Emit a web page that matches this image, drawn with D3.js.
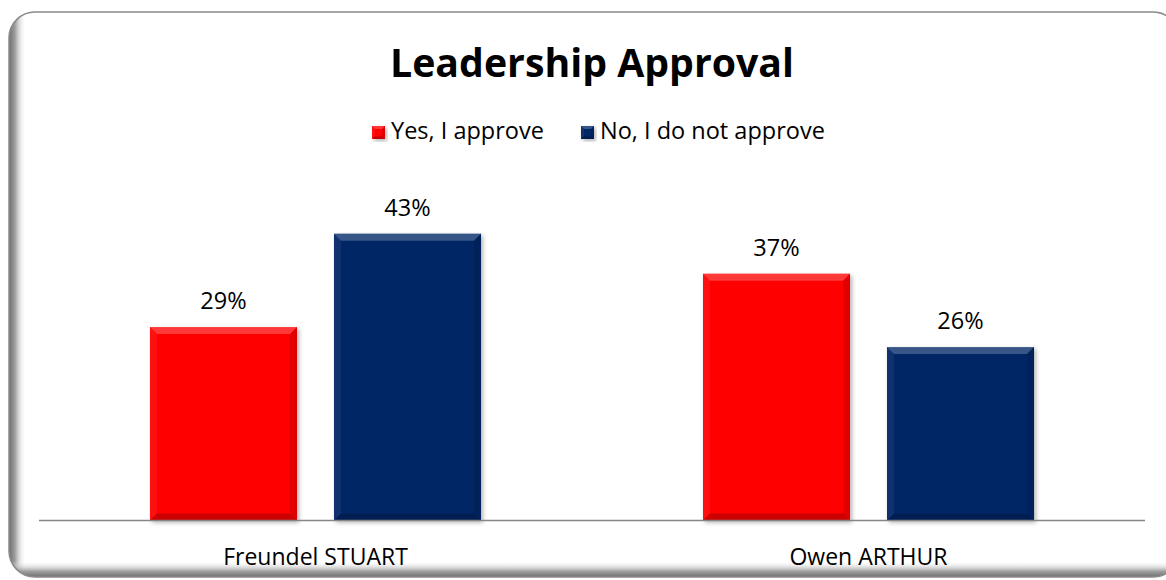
<!DOCTYPE html>
<html>
<head>
<meta charset="utf-8">
<script src="https://cdn.jsdelivr.net/npm/d3@7"></script>
<style>
  html, body { margin: 0; padding: 0; background: #ffffff; overflow: hidden; }
  svg { display: block; font-family: "Open Sans", "Noto Sans", sans-serif; }
</style>
</head>
<body>
<svg id="chart" width="1166" height="580"></svg>
<script>
// Chart data
const title = "Leadership Approval";
const categories = ["Freundel STUART", "Owen ARTHUR"];
const seriesNames = ["Yes, I approve", "No, I do not approve"];
const yesValues = [29, 37];
const noValues = [43, 26];
const seriesColors = ["#ff0000", "#062766"];

const svg = d3.select("#chart");
const defs = svg.append("defs");

// Frame: rounded panel with a soft shade along the left and bottom edges
const frame = { x: 9, y: 12, w: 1170, h: 565, r: 26 };
defs.append("clipPath").attr("id", "frameClip")
  .append("rect")
  .attr("x", frame.x).attr("y", frame.y)
  .attr("width", frame.w).attr("height", frame.h)
  .attr("rx", frame.r).attr("ry", frame.r);

const shadeL = defs.append("linearGradient").attr("id", "shadeLeft")
  .attr("x1", 0).attr("x2", 1).attr("y1", 0).attr("y2", 0);
shadeL.append("stop").attr("offset", "0%").attr("stop-color", "#6e6e6e").attr("stop-opacity", 1);
shadeL.append("stop").attr("offset", "35%").attr("stop-color", "#8c8c8c").attr("stop-opacity", 0.85);
shadeL.append("stop").attr("offset", "100%").attr("stop-color", "#ffffff").attr("stop-opacity", 0);
const shadeB = defs.append("linearGradient").attr("id", "shadeBottom")
  .attr("x1", 0).attr("x2", 0).attr("y1", 1).attr("y2", 0);
shadeB.append("stop").attr("offset", "0%").attr("stop-color", "#6e6e6e").attr("stop-opacity", 1);
shadeB.append("stop").attr("offset", "35%").attr("stop-color", "#8c8c8c").attr("stop-opacity", 0.85);
shadeB.append("stop").attr("offset", "100%").attr("stop-color", "#ffffff").attr("stop-opacity", 0);

const panel = svg.append("g").attr("clip-path", "url(#frameClip)");
panel.append("rect")
  .attr("x", frame.x).attr("y", frame.y)
  .attr("width", frame.w).attr("height", frame.h)
  .attr("fill", "#ffffff");
panel.append("rect")
  .attr("x", frame.x).attr("y", frame.y)
  .attr("width", 17).attr("height", frame.h)
  .attr("fill", "url(#shadeLeft)");
panel.append("rect")
  .attr("x", frame.x).attr("y", frame.y + frame.h - 16)
  .attr("width", frame.w).attr("height", 16)
  .attr("fill", "url(#shadeBottom)");
svg.append("rect")
  .attr("x", frame.x).attr("y", frame.y)
  .attr("width", frame.w).attr("height", frame.h)
  .attr("rx", frame.r).attr("ry", frame.r)
  .attr("fill", "none")
  .attr("stroke", "#8a8a8a")
  .attr("stroke-width", 1.5);

// Title
svg.append("text")
  .attr("x", 592).attr("y", 77)
  .attr("text-anchor", "middle")
  .attr("font-size", 40)
  .attr("font-weight", 700)
  .attr("fill", "#000")
  .attr("textLength", 404)
  .attr("lengthAdjust", "spacingAndGlyphs")
  .text(title);

// Scales
const plot = { left: 39, right: 1145, baseline: 520.5 };
const x0 = d3.scaleBand()
  .domain(categories)
  .range([plot.left, plot.right])
  .paddingInner(0.4014)
  .paddingOuter(0.2007);
const x1 = d3.scaleBand()
  .domain(seriesNames)
  .range([0, x0.bandwidth()])
  .paddingInner(0.201);
const y = d3.scaleLinear().domain([0, 50]).range([plot.baseline, plot.baseline - 333.5]);
const color = d3.scaleOrdinal().domain(seriesNames).range(seriesColors);

const rows = categories.map((c, i) => ({
  category: c,
  values: [
    { series: seriesNames[0], value: yesValues[i] },
    { series: seriesNames[1], value: noValues[i] }
  ]
}));

// Bar shadow and bevel facets
const shadow = defs.append("filter").attr("id", "barShadow")
  .attr("x", "-10%").attr("y", "-10%").attr("width", "130%").attr("height", "130%");
shadow.append("feDropShadow")
  .attr("dx", 2).attr("dy", 2).attr("stdDeviation", 2)
  .attr("flood-color", "#000").attr("flood-opacity", 0.3);

function bevelBar(g, bx, by, bw, bh, fill, bevel) {
  const b = Math.min(bevel, bh / 2);
  g.append("rect")
    .attr("x", bx).attr("y", by).attr("width", bw).attr("height", bh)
    .attr("fill", fill)
    .attr("filter", "url(#barShadow)");
  g.append("path")
    .attr("d", `M${bx},${by} L${bx + bw},${by} L${bx + bw - b},${by + b} L${bx + b},${by + b} Z`)
    .attr("fill", "#ffffff").attr("fill-opacity", 0.22);
  g.append("path")
    .attr("d", `M${bx},${by} L${bx + b},${by + b} L${bx + b},${by + bh - b} L${bx},${by + bh} Z`)
    .attr("fill", "#ffffff").attr("fill-opacity", 0.06);
  g.append("path")
    .attr("d", `M${bx + bw},${by} L${bx + bw},${by + bh} L${bx + bw - b},${by + bh - b} L${bx + bw - b},${by + b} Z`)
    .attr("fill", "#000000").attr("fill-opacity", 0.12);
  g.append("path")
    .attr("d", `M${bx},${by + bh} L${bx + b},${by + bh - b} L${bx + bw - b},${by + bh - b} L${bx + bw},${by + bh} Z`)
    .attr("fill", "#000000").attr("fill-opacity", 0.2);
}

const groups = svg.append("g").selectAll("g")
  .data(rows)
  .join("g")
  .attr("transform", d => `translate(${x0(d.category)},0)`);

groups.each(function (d) {
  const g = d3.select(this);
  d.values.forEach(v => {
    const bx = x1(v.series);
    const by = y(v.value);
    const bh = y(0) - y(v.value);
    bevelBar(g.append("g"), bx, by, x1.bandwidth(), bh, color(v.series), 7);
    g.append("text")
      .attr("x", bx + x1.bandwidth() / 2)
      .attr("y", by - 18)
      .attr("text-anchor", "middle")
      .attr("font-size", 23.5)
      .attr("fill", "#000")
      .text(v.value + "%");
  });
});

// Category axis
const xAxis = svg.append("g")
  .attr("transform", `translate(0,${plot.baseline})`)
  .call(d3.axisBottom(x0).tickSize(0).tickPadding(0));
xAxis.select(".domain").remove();
xAxis.append("line")
  .attr("x1", plot.left).attr("x2", plot.right)
  .attr("y1", 0).attr("y2", 0)
  .attr("stroke", "#868686").attr("stroke-width", 1.5);
xAxis.selectAll(".tick text")
  .attr("y", 44)
  .attr("dy", 0)
  .attr("font-size", 23)
  .attr("font-family", "'Open Sans', 'Noto Sans', sans-serif")
  .attr("fill", "#000");

// Legend
const legendItems = [
  { name: seriesNames[0], x: 372 },
  { name: seriesNames[1], x: 581 }
];
const legend = svg.append("g");
legendItems.forEach(item => {
  const lg = legend.append("g").attr("transform", `translate(${item.x},0)`);
  bevelBar(lg, 0, 126, 13, 13, color(item.name), 3);
  lg.append("text")
    .attr("x", 19).attr("y", 139)
    .attr("font-size", 23.5)
    .attr("fill", "#000")
    .text(item.name);
});
</script>
</body>
</html>
